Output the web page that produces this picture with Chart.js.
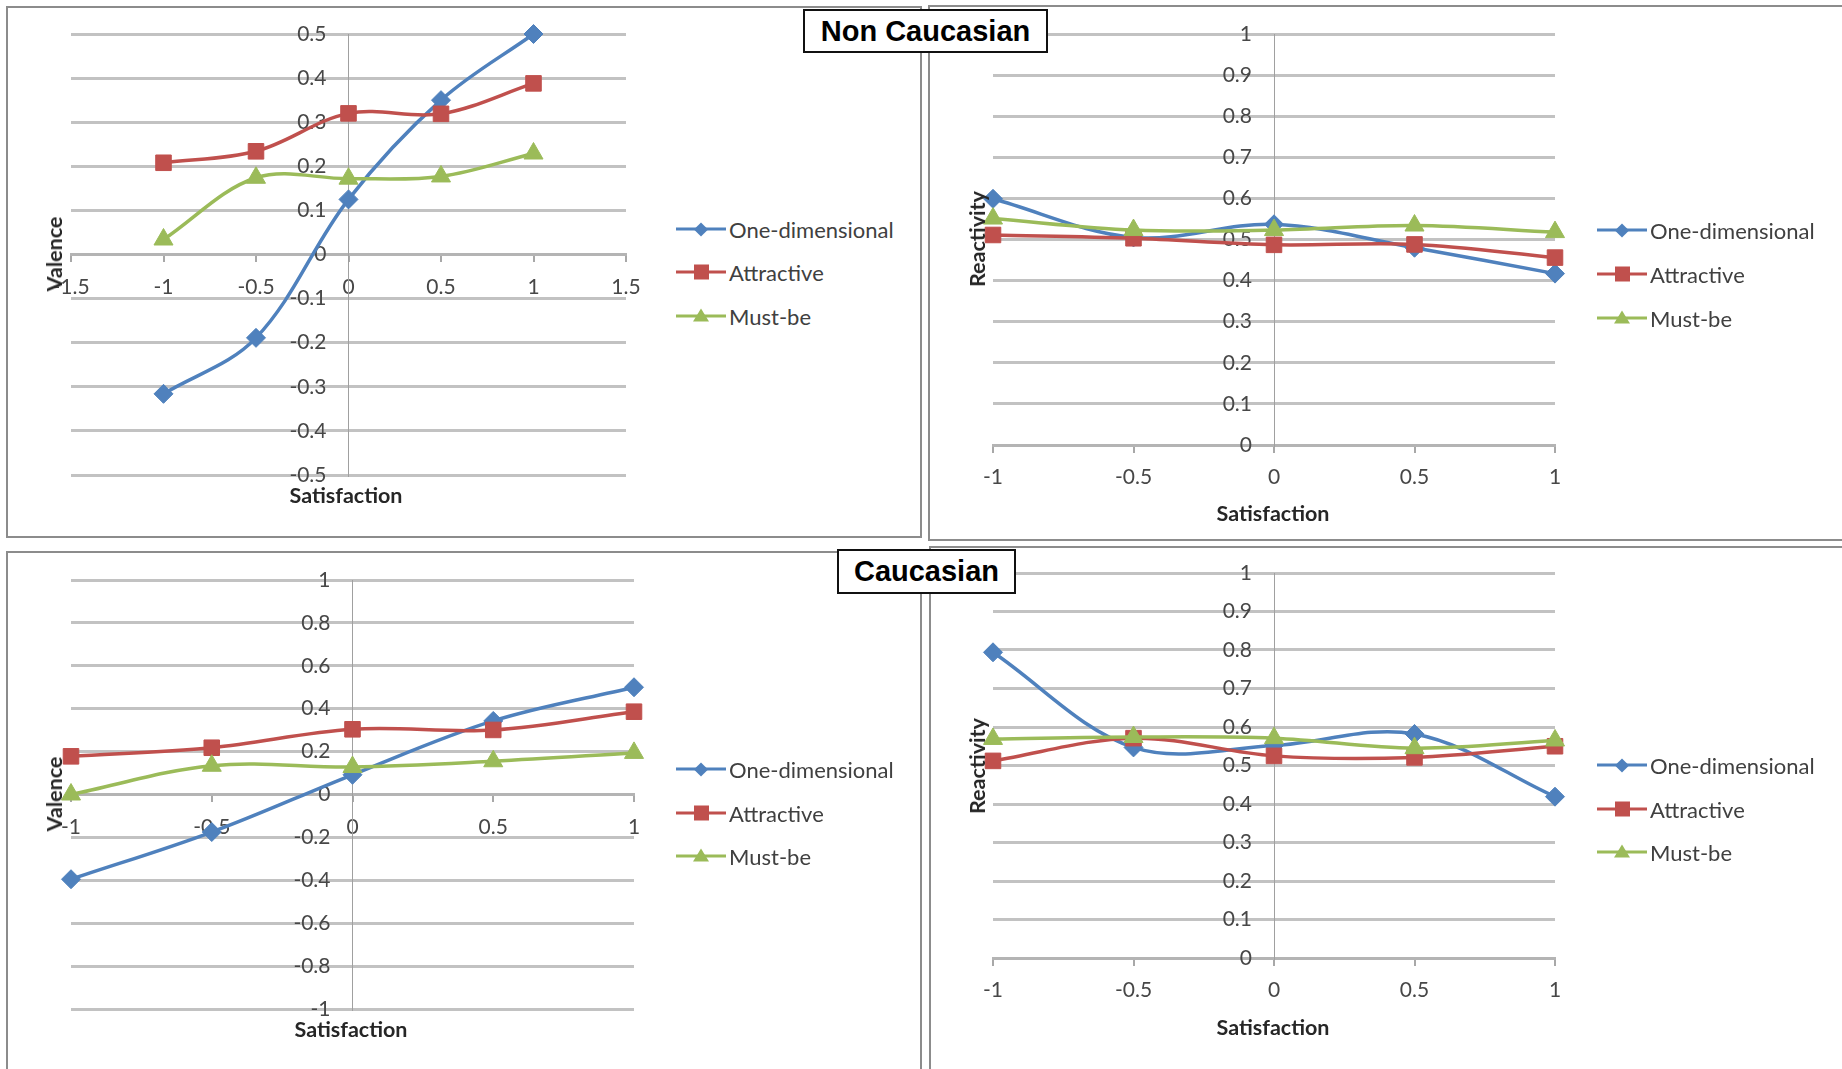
<!DOCTYPE html>
<html>
<head>
<meta charset="utf-8">
<title>Valence and Reactivity by Satisfaction</title>
<script src="https://cdn.jsdelivr.net/npm/chart.js@4.4.1/dist/chart.umd.min.js"></script>
<style>
    html, body { margin: 0; padding: 0; background: #fff; }
    body { width: 1842px; height: 1069px; position: relative; overflow: hidden; font-family: Lato, 'Open Sans', sans-serif; }
    .panel { position: absolute; border: 2px solid #8c8c8c; box-sizing: border-box; }
    canvas { position: absolute; z-index: 1; }
    .title-box { position: absolute; z-index: 5; background: #fff; border: 2px solid #111; box-sizing: border-box;
        font-family: 'Liberation Sans', Arial, sans-serif; font-weight: bold; font-size: 29px; color: #000;
        display: flex; align-items: center; justify-content: center; }
    .axis-title { position: absolute; z-index: 3; font-weight: bold; font-size: 21.5px; color: #262626; white-space: nowrap;
        transform: translate(-50%, -50%); }
    .axis-title.rot { transform: translate(-50%, -50%) rotate(-90deg); }
    .legend-item { position: absolute; z-index: 3; display: flex; align-items: center; white-space: nowrap;
        font-size: 22px; color: #404040; transform: translateY(-50%); }
    .swatch { position: relative; width: 50px; height: 3.5px; margin-right: 3px; }
    .swatch i { position: absolute; left: 50%; top: 50%; }
    .swatch i.rectRot { width: 10px; height: 10px; margin: -5px 0 0 -5px; transform: rotate(45deg); }
    .swatch i.rect { width: 15px; height: 15px; margin: -7.5px 0 0 -7.5px; }
    .swatch i.triangle { width: 0; height: 0; margin: -8px 0 0 -8px; border-left: 8px solid transparent;
        border-right: 8px solid transparent; border-bottom: 13px solid; background: none !important; }
</style>
</head>
<body>

<div class="panel" style="left:6px; top:6px; width:916px; height:532px;"></div>
<div class="panel" style="left:928px; top:5px; width:920px; height:536px;"></div>
<div class="panel" style="left:6px; top:551px; width:916px; height:600px;"></div>
<div class="panel" style="left:929px; top:546px; width:920px; height:600px;"></div>

<div class="title-box" style="left:803px; top:9px; width:245px; height:44px;">Non Caucasian</div>
<div class="title-box" style="left:837px; top:549px; width:179px; height:45px;">Caucasian</div>

<canvas id="ncValence"></canvas>
<canvas id="ncReactivity"></canvas>
<canvas id="cValence"></canvas>
<canvas id="cReactivity"></canvas>

<script>
// x values shared by every series
const satisfaction = [-1, -0.5, 0, 0.5, 1];
const seriesNames = ['One-dimensional', 'Attractive', 'Must-be'];
const seriesColors = ['#4F81BD', '#C0504D', '#9BBB59'];
const pointStyles = ['rectRot', 'rect', 'triangle'];
const pointRadii = [9.5, 11, 11];

// tick labels
const xTicksWide = [-1.5, -1, -0.5, 0, 0.5, 1, 1.5];
const xTicksNarrow = [-1, -0.5, 0, 0.5, 1];
const yTicksValenceNC = [-0.5, -0.4, -0.3, -0.2, -0.1, 0, 0.1, 0.2, 0.3, 0.4, 0.5];
const yTicksValenceC = [-1, -0.8, -0.6, -0.4, -0.2, 0, 0.2, 0.4, 0.6, 0.8, 1];
const yTicksReactivity = [0, 0.1, 0.2, 0.3, 0.4, 0.5, 0.6, 0.7, 0.8, 0.9, 1];

// Non Caucasian - Valence
const ncValenceOneDim = [-0.316, -0.189, 0.125, 0.35, 0.5];
const ncValenceAttr = [0.208, 0.234, 0.32, 0.319, 0.388];
const ncValenceMust = [0.034, 0.174, 0.172, 0.177, 0.229];

// Non Caucasian - Reactivity
const ncReactOneDim = [0.599, 0.505, 0.537, 0.48, 0.417];
const ncReactAttr = [0.511, 0.503, 0.487, 0.488, 0.456];
const ncReactMust = [0.551, 0.523, 0.523, 0.534, 0.518];

// Caucasian - Valence
const cValenceOneDim = [-0.395, -0.175, 0.092, 0.343, 0.5];
const cValenceAttr = [0.178, 0.218, 0.304, 0.301, 0.386];
const cValenceMust = [0.0, 0.134, 0.128, 0.155, 0.194];

// Caucasian - Reactivity
const cReactOneDim = [0.794, 0.547, 0.552, 0.582, 0.419];
const cReactAttr = [0.512, 0.571, 0.525, 0.521, 0.55];
const cReactMust = [0.569, 0.574, 0.571, 0.545, 0.565];

const PAD = { left: 50, right: 50, top: 50, bottom: 60 };
const tickFont = { family: 'Lato', size: 21 };
const tickColor = '#474747';

// canvas boxes [left, top, width, height], legend anchor and axis titles
const charts = [
    { id: 'ncValence', box: [21, -16, 655, 551], xTicks: xTicksWide, yTicks: yTicksValenceNC,
      series: [ncValenceOneDim, ncValenceAttr, ncValenceMust], yTitle: 'Valence',
      legend: [676, [229, 272, 316]], xTitlePos: [346, 495], yTitlePos: [54, 254] },
    { id: 'ncReactivity', box: [943, -16, 662, 521], xTicks: xTicksNarrow, yTicks: yTicksReactivity,
      series: [ncReactOneDim, ncReactAttr, ncReactMust], yTitle: 'Reactivity',
      legend: [1597, [230, 274, 318]], xTitlePos: [1273, 513], yTitlePos: [977, 239] },
    { id: 'cValence', box: [21, 530, 663, 539], xTicks: xTicksNarrow, yTicks: yTicksValenceC,
      series: [cValenceOneDim, cValenceAttr, cValenceMust], yTitle: 'Valence',
      legend: [676, [769, 813, 856]], xTitlePos: [351, 1029], yTitlePos: [54, 794] },
    { id: 'cReactivity', box: [943, 523, 662, 495], xTicks: xTicksNarrow, yTicks: yTicksReactivity,
      series: [cReactOneDim, cReactAttr, cReactMust], yTitle: 'Reactivity',
      legend: [1597, [765, 809, 852]], xTitlePos: [1273, 1027], yTitlePos: [977, 766] }
];

function addLegend(left, tops) {
    seriesNames.forEach(function(name, i) {
        const item = document.createElement('div');
        item.className = 'legend-item';
        item.style.left = left + 'px';
        item.style.top = tops[i] + 'px';
        item.innerHTML = '<span class="swatch" style="background:' + seriesColors[i] + '">' +
            '<i class="' + pointStyles[i] + '" style="background:' + seriesColors[i] +
            ';border-bottom-color:' + seriesColors[i] + '"></i></span>' + name;
        document.body.appendChild(item);
    });
}

function addText(text, pos, rotated) {
    const el = document.createElement('div');
    el.className = 'axis-title' + (rotated ? ' rot' : '');
    el.style.left = pos[0] + 'px';
    el.style.top = pos[1] + 'px';
    el.textContent = text;
    document.body.appendChild(el);
}

charts.forEach(function(c) {
    const canvas = document.getElementById(c.id);
    canvas.width = c.box[2];
    canvas.height = c.box[3];
    canvas.style.left = c.box[0] + 'px';
    canvas.style.top = c.box[1] + 'px';

    new Chart(canvas, {
        type: 'line',
        data: {
            datasets: seriesNames.map(function(name, i) {
                return {
                    label: name,
                    data: satisfaction.map(function(x, j) { return { x: x, y: c.series[i][j] }; }),
                    borderColor: seriesColors[i],
                    backgroundColor: seriesColors[i],
                    borderWidth: 3.5,
                    pointStyle: pointStyles[i],
                    pointRadius: pointRadii[i],
                    pointBorderWidth: 1,
                    tension: 0.35,
                    fill: false,
                    clip: false,
                    // later series sit on top, like the original
                    order: seriesNames.length - i
                };
            })
        },
        options: {
            responsive: false,
            animation: false,
            layout: { padding: PAD },
            plugins: { legend: { display: false }, tooltip: { enabled: false } },
            scales: {
                x: {
                    type: 'linear',
                    min: c.xTicks[0],
                    max: c.xTicks[c.xTicks.length - 1],
                    position: { y: 0 },
                    afterBuildTicks: function(scale) {
                        scale.ticks = c.xTicks.map(function(v) { return { value: v }; });
                    },
                    grid: { drawOnChartArea: false, tickLength: 6, color: '#a8a8a8', lineWidth: 2 },
                    border: { color: '#b4b4b4', width: 3 },
                    ticks: { padding: 14, font: tickFont, color: tickColor, maxRotation: 0, autoSkip: false,
                        callback: function(v) { return String(v); } }
                },
                y: {
                    type: 'linear',
                    min: c.yTicks[0],
                    max: c.yTicks[c.yTicks.length - 1],
                    position: 'center',
                    afterBuildTicks: function(scale) {
                        scale.ticks = c.yTicks.map(function(v) { return { value: v }; });
                    },
                    grid: { color: '#c2c2c2', lineWidth: 3, drawTicks: false },
                    border: { color: '#a0a0a0', width: 1 },
                    ticks: { padding: 22, font: tickFont, color: tickColor, autoSkip: false,
                        callback: function(v) { return String(v); } }
                }
            }
        }
    });

    addLegend(c.legend[0], c.legend[1]);
    addText('Satisfaction', c.xTitlePos, false);
    addText(c.yTitle, c.yTitlePos, true);
});
</script>
</body>
</html>
